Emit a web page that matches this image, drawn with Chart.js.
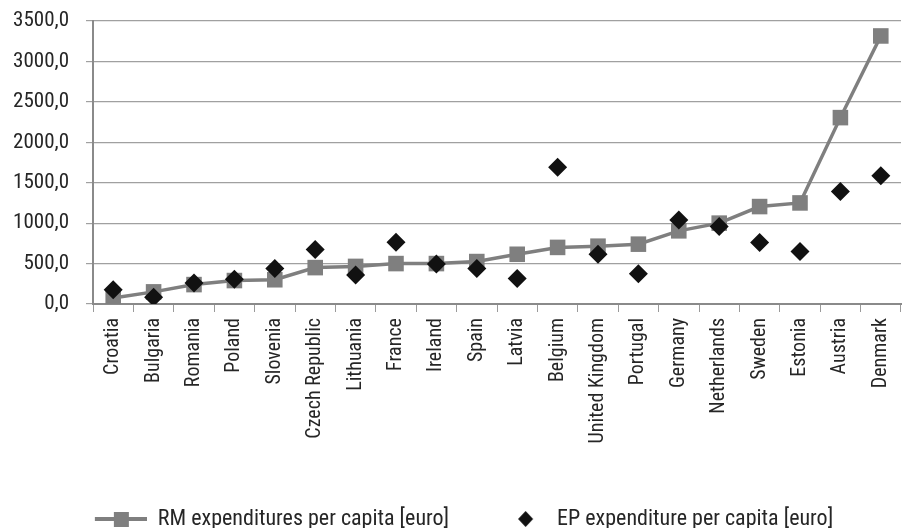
<!DOCTYPE html>
<html>
<head>
<meta charset="utf-8">
<script src="https://cdn.jsdelivr.net/npm/chart.js@4.4.1/dist/chart.umd.min.js"></script>
<style>
  html, body { margin: 0; padding: 0; background: #fff; height: 528px; overflow: hidden; }
  #wrap { width: 912px; height: 540px; }
</style>
</head>
<body>
<div id="wrap"><canvas id="chart"></canvas></div>
<script>
// Countries (sorted by RM expenditure)
const countries = ['Croatia', 'Bulgaria', 'Romania', 'Poland', 'Slovenia', 'Czech Republic',
    'Lithuania', 'France', 'Ireland', 'Spain', 'Latvia', 'Belgium', 'United Kingdom',
    'Portugal', 'Germany', 'Netherlands', 'Sweden', 'Estonia', 'Austria', 'Denmark'];

// RM expenditures per capita [euro]
const rmValues = [75, 150, 240, 290, 300, 450, 465, 500, 500, 525,
    615, 700, 715, 740, 905, 1000, 1205, 1250, 2305, 3315];

// EP expenditure per capita [euro]
const epValues = [175, 85, 260, 305, 440, 675, 360, 765, 495, 440,
    315, 1690, 615, 375, 1040, 960, 760, 650, 1390, 1585];

const yTicks = [0, 500, 1000, 1500, 2000, 2500, 3000, 3500];

const FONT = "'Liberation Sans Narrow', 'Roboto Condensed', Roboto, sans-serif";
const GREY = '#7f7f7f';
const ICON_W = 70;

/**
 * Small canvas used as legend symbol
 */
function legendIcon(draw) {
    const c = document.createElement('canvas');
    c.width = ICON_W;
    c.height = 18;
    draw(c.getContext('2d'));
    return c;
}

// line with a square marker, right part of the box
const rmIcon = legendIcon(function(g) {
    g.strokeStyle = GREY;
    g.lineWidth = 4;
    g.beginPath();
    g.moveTo(ICON_W - 52, 9);
    g.lineTo(ICON_W, 9);
    g.stroke();
    g.fillStyle = GREY;
    g.fillRect(ICON_W - 33, 2, 15, 15);
});

// lone diamond near the text
const epIcon = legendIcon(function(g) {
    const cx = ICON_W - 20.5;
    g.fillStyle = '#111';
    g.beginPath();
    g.moveTo(cx, 1);
    g.lineTo(cx + 7.5, 9);
    g.lineTo(cx, 17);
    g.lineTo(cx - 7.5, 9);
    g.closePath();
    g.fill();
});

new Chart(document.getElementById('chart'), {
    type: 'line',
    data: {
        labels: countries,
        datasets: [{
            label: 'RM expenditures per capita [euro]',
            data: rmValues,
            borderColor: GREY,
            backgroundColor: GREY,
            borderWidth: 3.5,
            pointStyle: 'rect',
            pointRadius: 11,
            pointBorderWidth: 0,
            tension: 0,
            order: 2
        }, {
            label: 'EP expenditure per capita [euro]',
            data: epValues,
            showLine: false,
            borderColor: '#111',
            backgroundColor: '#111',
            pointStyle: 'rectRot',
            pointRadius: 9.5,
            pointBorderWidth: 0,
            order: 1
        }]
    },
    options: {
        responsive: true,
        maintainAspectRatio: false,
        animation: false,
        layout: {
            padding: { left: 0, right: 2, top: 0, bottom: 0 }
        },
        plugins: {
            legend: {
                position: 'bottom',
                labels: {
                    usePointStyle: true,
                    pointStyleWidth: ICON_W,
                    boxHeight: 18,
                    padding: 27,
                    color: '#262626',
                    font: { family: FONT, size: 22 },
                    sort: (a, b) => a.datasetIndex - b.datasetIndex,
                    generateLabels: function(chart) {
                        const items = Chart.defaults.plugins.legend.labels.generateLabels(chart);
                        items.forEach(item => {
                            item.pointStyle = item.datasetIndex === 0 ? rmIcon : epIcon;
                        });
                        return items;
                    }
                }
            },
            tooltip: { enabled: false }
        },
        scales: {
            x: {
                offset: true,
                grid: {
                    offset: true,
                    drawOnChartArea: false,
                    drawTicks: true,
                    tickLength: 8,
                    color: '#9a9a9a'
                },
                border: { color: '#8a8a8a', width: 2 },
                ticks: {
                    autoSkip: false,
                    maxRotation: 90,
                    minRotation: 90,
                    padding: 6,
                    color: '#262626',
                    font: { family: FONT, size: 20 }
                },
                afterFit: function(scale) {
                    scale.height = 177;
                }
            },
            y: {
                min: 0,
                max: 3500,
                afterBuildTicks: function(scale) {
                    scale.ticks = yTicks.map(v => ({ value: v }));
                },
                grid: {
                    color: '#a0a0a0',
                    lineWidth: 1.2,
                    tickLength: 7
                },
                border: { color: '#8a8a8a', width: 2 },
                ticks: {
                    padding: 17,
                    color: '#262626',
                    font: { family: FONT, size: 21 },
                    callback: function(value) {
                        return value.toFixed(1).replace('.', ',');
                    }
                },
                afterFit: function(scale) {
                    scale.width = 93;
                    // tick padding is otherwise added above the top label
                    scale.paddingTop = 21;
                    scale.paddingBottom = 0;
                }
            }
        }
    }
});
</script>
</body>
</html>
